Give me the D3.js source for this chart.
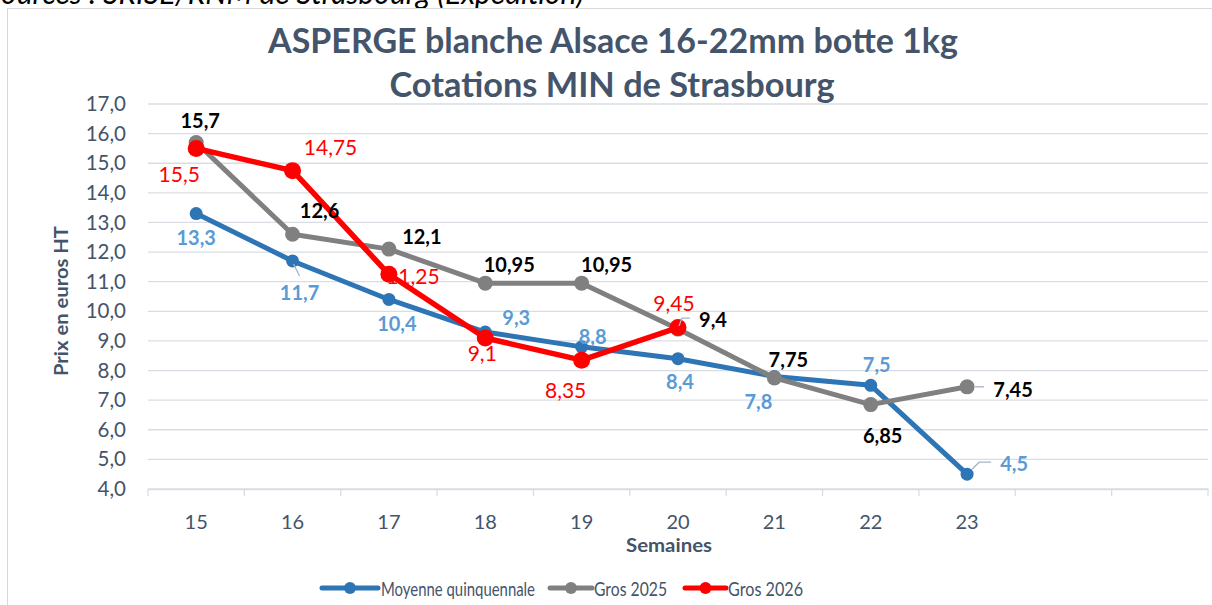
<!DOCTYPE html>
<html><head><meta charset="utf-8">
<script src="https://cdn.jsdelivr.net/npm/d3@7"></script>
<style>body{margin:0;background:#fff;overflow:hidden}svg{display:block}</style>
</head><body>
<svg id="c" width="1212" height="605"></svg>
<script>
const weeks = ["15","16","17","18","19","20","21","22","23","24","25"];
const tickLabels = ["15","16","17","18","19","20","21","22","23","",""];
const moyenne = [13.3, 11.7, 10.4, 9.3, 8.8, 8.4, 7.8, 7.5, 4.5];
const gros2025 = [15.7, 12.6, 12.1, 10.95, 10.95, 9.4, 7.75, 6.85, 7.45];
const gros2026 = [15.5, 14.75, 11.25, 9.1, 8.35, 9.45];
const yTicks = [4,5,6,7,8,9,10,11,12,13,14,15,16,17];
const seriesNames = ["Moyenne quinquennale", "Gros 2025", "Gros 2026"];

// label offsets (styling)
const offMoy = [[0,23],[7,31],[8,24],[31,-15],[11,-11],[2,22],[-16,25],[6,-21],[47,-11]];
const offG25 = [[4,-23],[27,-24],[33,-13],[24,-19],[25,-19],[35,-10],[14,-19],[12,30],[46,2]];
const offG26 = [[-17,25],[38,-24],[24,1],[-3,15],[-16,29],[-4,-25]];

const FONT = "Lato, 'Open Sans', sans-serif";
const txtCol = "#44546A";
const svg = d3.select("#c");

function fit(sel, w){
  sel.each(function(){
    const n = this.getComputedTextLength();
    if (Math.abs(n-w) > 1) d3.select(this).attr("textLength", w).attr("lengthAdjust","spacingAndGlyphs");
  });
  return sel;
}

// top source text (cut off)
const src = svg.append("text").attr("x",-14).attr("y",4).attr("font-family",FONT).attr("font-style","italic")
  .attr("font-size",30).attr("fill","#000").text("Sources : SRISE/RNM de Strasbourg (Expédition)");
fit(src, 598);

// chart border
svg.append("rect").attr("x",7.5).attr("y",8.5).attr("width",1215).attr("height",610)
  .attr("fill","#fff").attr("stroke","#D9D9D9").attr("stroke-width",1);

const L = 148, R = 1208, T = 104, B = 489;
const x = d3.scaleBand().domain(weeks).range([L,R]);
const y = d3.scaleLinear().domain([4,17]).range([B,T]);
const cx = i => x(weeks[i]) + x.bandwidth()/2;

// gridlines
svg.append("g").selectAll("line").data(yTicks).join("line")
  .attr("x1",L).attr("x2",R).attr("y1",d=>y(d)).attr("y2",d=>y(d))
  .attr("stroke","#D9DDE3").attr("stroke-width",1.3);

// y axis labels
const yAxis = d3.axisLeft(y).tickValues(yTicks).tickSize(0).tickPadding(22)
  .tickFormat(d => d3.format(".1f")(d).replace(".",","));
const gy = svg.append("g").attr("transform",`translate(${L},0)`).call(yAxis);
gy.select(".domain").remove();
gy.selectAll("text").attr("font-family",FONT).attr("font-size",20.5).attr("fill",txtCol);

// x axis
const xAxis = d3.axisBottom(x).tickSize(0).tickPadding(26).tickFormat((d,i)=>tickLabels[i]);
const gx = svg.append("g").attr("transform",`translate(0,${B})`).call(xAxis);
gx.select(".domain").attr("stroke","#D9DDE3").attr("stroke-width",1.3);
gx.selectAll("text").attr("font-family",FONT).attr("font-size",20).attr("fill",txtCol);
// category boundary ticks
const bounds = weeks.map((w)=>x(w)).concat([R]);
svg.append("g").selectAll("line").data(bounds).join("line")
  .attr("x1",d=>d).attr("x2",d=>d).attr("y1",B).attr("y2",B+7)
  .attr("stroke","#D9DDE3").attr("stroke-width",1.3);

// titles
const t1 = svg.append("text").attr("x",613).attr("y",53).attr("text-anchor","middle")
  .attr("font-family",FONT).attr("font-weight","bold").attr("font-size",34).attr("fill",txtCol)
  .text("ASPERGE blanche Alsace 16-22mm botte 1kg");
fit(t1, 690);
const t2 = svg.append("text").attr("x",612).attr("y",97).attr("text-anchor","middle")
  .attr("font-family",FONT).attr("font-weight","bold").attr("font-size",34).attr("fill",txtCol)
  .text("Cotations MIN de Strasbourg");
fit(t2, 445);

const xt = svg.append("text").attr("x",669).attr("y",552).attr("text-anchor","middle")
  .attr("font-family",FONT).attr("font-weight","bold").attr("font-size",18).attr("fill",txtCol).text("Semaines");
fit(xt, 86);
const yt = svg.append("text").attr("transform","translate(68,301) rotate(-90)").attr("text-anchor","middle")
  .attr("font-family",FONT).attr("font-weight","bold").attr("font-size",18).attr("fill",txtCol).text("Prix en euros HT");
fit(yt, 150);

// series
const series = [
  {vals: moyenne, color:"#2E75B6", r:6.5, w:5, lab:"#5B9BD5", bold:true, off:offMoy},
  {vals: gros2025, color:"#808080", r:7.5, w:5, lab:"#000000", bold:true, off:offG25},
  {vals: gros2026, color:"#FF0000", r:8.5, w:5.5, lab:"#FF0000", bold:false, off:offG26}
];
const line = d3.line().x((d,i)=>cx(i)).y(d=>y(d));
series.forEach(s=>{
  svg.append("path").datum(s.vals).attr("d",line).attr("fill","none")
    .attr("stroke",s.color).attr("stroke-width",s.w).attr("stroke-linejoin","round");
  svg.append("g").selectAll("circle").data(s.vals).join("circle")
    .attr("cx",(d,i)=>cx(i)).attr("cy",d=>y(d)).attr("r",s.r).attr("fill",s.color);
});

// leader lines
const leaders = [[0,1],[0,8],[1,5],[1,8]];
leaders.forEach(([si,i])=>{
  const s = series[si]; const px = cx(i), py = y(s.vals[i]);
  let pts;
  if (si===0 && i===1) pts=[[px+1,py+3],[px+7,py+15]];
  else if (si===0 && i===8) pts=[[px+5,py-5],[px+12,py-12],[px+24,py-12]];
  else if (si===1 && i===5) pts=[[px+1,py-3],[px+4,py-11],[px+12,py-11]];
  else pts=[[px+8,py],[px+17,py]];
  svg.append("path").attr("d",d3.line()(pts)).attr("fill","none").attr("stroke","#A6B4C4").attr("stroke-width",1.3);
});

// data labels
series.forEach(s=>{
  svg.append("g").selectAll("text").data(s.vals).join("text")
    .attr("x",(d,i)=>cx(i)+s.off[i][0]).attr("y",(d,i)=>y(d)+s.off[i][1])
    .attr("text-anchor","middle").attr("dominant-baseline","central")
    .attr("font-family",FONT).attr("font-size",s.bold?20:21).attr("font-weight",s.bold?"bold":"normal")
    .attr("fill",s.lab).text(d=>String(d).replace(".",","));
});

// legend
const legend = [
  {name:seriesNames[0], color:"#2E75B6", x0:322, x1:378, tx:381, w:154},
  {name:seriesNames[1], color:"#808080", x0:550, x1:592, tx:594, w:73},
  {name:seriesNames[2], color:"#FF0000", x0:685, x1:726, tx:728, w:75}
];
const lg = svg.append("g");
legend.forEach(l=>{
  lg.append("line").attr("x1",l.x0).attr("x2",l.x1).attr("y1",588).attr("y2",588)
    .attr("stroke",l.color).attr("stroke-width",5).attr("stroke-linecap","round");
  lg.append("circle").attr("cx",(l.x0+l.x1)/2).attr("cy",588).attr("r",6).attr("fill",l.color);
  const t = lg.append("text").attr("x",l.tx).attr("y",588).attr("dominant-baseline","central")
    .attr("font-family",FONT).attr("font-size",20).attr("fill",txtCol).text(l.name);
  fit(t, l.w);
});
</script>
</body></html>
